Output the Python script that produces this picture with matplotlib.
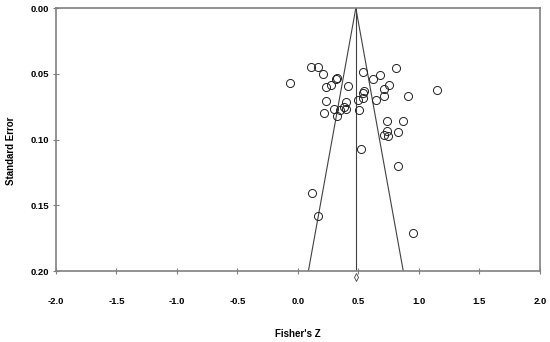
import matplotlib.pyplot as plt
import numpy as np

# study effect sizes (Fisher's Z) and their standard errors
fisher_z = [0.105, 0.168, 0.204, -0.069, 0.320, 0.317, 0.270, 0.231, 0.410,
            0.535, 0.620, 0.680, 0.810, 0.752, 0.708, 0.708, 0.647, 0.548,
            0.540, 0.540, 0.498, 0.912, 1.146, 0.234, 0.399, 0.383, 0.394,
            0.347, 0.295, 0.507, 0.215, 0.325, 0.738, 0.870, 0.733, 0.829,
            0.713, 0.741, 0.521, 0.824, 0.118, 0.165, 0.950]
std_err = [0.0446, 0.0446, 0.0504, 0.0568, 0.0535, 0.0542, 0.0583, 0.0601, 0.0596,
           0.0489, 0.0542, 0.0507, 0.0459, 0.0583, 0.0616, 0.0667, 0.0700, 0.0634,
           0.0649, 0.0682, 0.0700, 0.0667, 0.0626, 0.0707, 0.0712, 0.0750, 0.0770,
           0.0776, 0.0770, 0.0773, 0.0801, 0.0821, 0.0857, 0.0857, 0.0933, 0.0945,
           0.0968, 0.0976, 0.1070, 0.1199, 0.141, 0.158, 0.171]
pooled = 0.478
se_max = 0.20

xticks = [-2.0, -1.5, -1.0, -0.5, 0.0, 0.5, 1.0, 1.5, 2.0]
yticks = [0.00, 0.05, 0.10, 0.15, 0.20]

fig = plt.figure(figsize=(5.5, 3.42), dpi=100)
ax = fig.add_axes([0.1018, 0.2076, 0.88, 0.769])

# funnel (pseudo 95% limits) and pooled estimate line
se_line = np.array([0.0, se_max])
ax.plot(pooled - 1.96 * se_line, se_line, color="#404040", lw=0.8)
ax.plot(pooled + 1.96 * se_line, se_line, color="#404040", lw=0.8)
ax.plot([pooled, pooled], [0.0, se_max], color="#404040", lw=0.8)

ax.plot(fisher_z, std_err, "o", mfc="none", mec="#202020", ms=5.8, mew=0.7)
ax.plot([pooled], [se_max + 0.0046], "d", mfc="white", mec="#404040",
        ms=4, mew=0.6, clip_on=False)

ax.set_xlim(-2.0, 2.0)
ax.set_ylim(se_max, 0.0)
ax.set_xticks(xticks)
ax.set_yticks(yticks)
ax.set_xticklabels(["%.1f" % t for t in xticks])
ax.set_yticklabels(["%.2f" % t for t in yticks])
ax.tick_params(axis="x", direction="inout", length=4, width=0.8, color="#808080",
               pad=17, labelsize=6.8)
ax.tick_params(axis="y", direction="inout", length=4, width=0.8, color="#808080",
               pad=3, labelsize=6.8)
for lab in ax.get_xticklabels() + ax.get_yticklabels():
    lab.set_fontweight("bold")
    lab.set_family("Liberation Sans")
for sp in ax.spines.values():
    sp.set_color("#808080")
    sp.set_linewidth(1.2)

ax.set_xlabel("Fisher's Z", fontsize=7, fontweight="bold", family="Liberation Sans")
ax.set_ylabel("Standard Error", fontsize=7, fontweight="bold", family="Liberation Sans")
ax.xaxis.set_label_coords(0.499, -0.221)
ax.yaxis.set_label_coords(-0.082, 0.456)

fig.savefig("out.png", dpi=100)
